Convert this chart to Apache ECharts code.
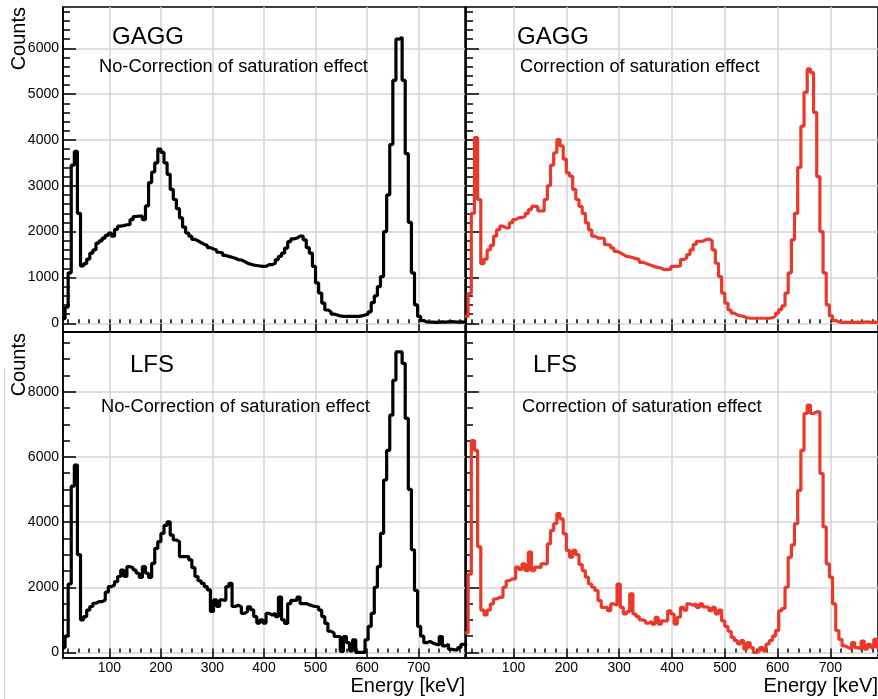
<!DOCTYPE html>
<html><head><meta charset="utf-8">
<script src="https://cdn.jsdelivr.net/npm/echarts@6/dist/echarts.min.js"></script>
<style>html,body{margin:0;padding:0;background:#fff}#c{width:878px;height:699px}</style>
</head><body><div id="c"></div>
<script>
// Bin centres (keV)
const energyBins = [
 11,17,23,29,35,41,47,53,59,65,
 71,77,83,89,95,101,107,113,119,125,
 131,137,143,149,155,161,167,173,179,185,
 191,197,203,209,215,221,227,233,239,245,
 251,257,263,269,275,281,287,293,299,305,
 311,317,323,329,335,341,347,353,359,365,
 371,377,383,389,395,401,407,413,419,425,
 431,437,443,449,455,461,467,473,479,485,
 491,497,503,509,515,521,527,533,539,545,
 551,557,563,569,575,581,587,593,599,605,
 611,617,623,629,635,641,647,653,659,665,
 671,677,683,689,695,701,707,713,719,725,
 731,737,743,749,755,761,767,773,779,785,
 791];
const gaggNoCorrection = [
 100,350,1100,3450,3750,2400,1250,1300,1400,1530,
 1600,1750,1800,1860,1920,1970,1900,2050,2120,2130,
 2150,2150,2260,2330,2340,2340,2260,2560,3070,3300,
 3500,3800,3730,3500,3250,2920,2700,2500,2300,2100,
 1970,1900,1830,1800,1760,1720,1700,1650,1620,1600,
 1550,1530,1480,1460,1440,1420,1390,1380,1350,1310,
 1290,1270,1260,1250,1240,1240,1280,1280,1310,1390,
 1460,1530,1640,1780,1840,1860,1900,1900,1820,1650,
 1530,1240,880,660,440,290,250,200,180,160,
 150,150,150,150,150,150,160,180,200,250,
 450,600,800,1020,2000,2800,3900,5300,6200,6240,
 5300,3700,2200,1100,400,150,60,30,25,25,
 20,25,30,25,30,35,30,25,30,25,
 20];
const gaggCorrection = [
 150,650,2400,4050,2700,1300,1400,1600,1700,1900,
 2040,2120,2080,2080,2190,2260,2300,2310,2330,2400,
 2480,2550,2550,2450,2450,2700,3000,3450,3720,4010,
 3870,3580,3280,3210,2920,2700,2550,2400,2190,2040,
 1900,1860,1860,1850,1715,1700,1640,1570,1540,1500,
 1460,1450,1430,1410,1390,1330,1310,1280,1260,1230,
 1220,1200,1170,1170,1180,1240,1240,1250,1390,1430,
 1500,1600,1720,1790,1790,1820,1840,1800,1600,1310,
 1020,660,440,290,220,180,160,150,120,110,
 110,110,110,110,110,110,120,160,220,300,
 380,660,1100,1820,2400,3400,4300,5040,5550,5470,
 4600,3200,2000,1100,400,160,60,30,20,20,
 20,25,20,25,20,25,30,20,25,20,
 20];
const lfsNoCorrection = [
 150,500,2100,5100,5750,3000,1000,1100,1300,1410,
 1510,1560,1560,1610,1850,2020,2070,2170,2330,2530,
 2330,2630,2600,2530,2430,2300,2630,2430,2300,2730,
 3190,3400,3650,3900,4010,3600,3450,3400,2940,2940,
 2940,2840,2600,2330,2200,2120,2020,1920,1260,1610,
 1410,1610,1600,2020,2120,1410,1450,1400,1200,1250,
 1400,1310,1100,900,1000,900,1200,1150,1200,1100,
 1700,1000,890,1500,1600,1600,1700,1500,1500,1460,
 1430,1410,1400,1300,1100,890,650,590,490,490,
 30,490,300,50,390,0,0,0,390,800,
 1200,2000,2630,3650,5290,6200,7280,8350,9220,9220,
 8870,7180,5000,3150,1900,800,500,300,340,290,
 250,230,490,200,250,100,80,80,150,250,
 200];
const lfsCorrection = [
 600,2400,6500,6200,3240,1300,1150,1300,1490,1640,
 1690,1690,2000,2200,2260,2260,2620,2550,2720,2510,
 3080,2510,2620,2600,2720,2720,3330,3740,3950,4260,
 4100,3640,3130,2920,3130,3000,2700,2510,2310,2100,
 2000,1900,1590,1380,1380,1280,1490,1450,2100,1380,
 1180,1250,1800,1180,1100,1000,970,900,950,870,
 1080,870,970,970,1280,1180,870,1080,1380,1300,
 1490,1450,1490,1380,1490,1400,1380,1280,1380,1180,
 1300,970,800,650,460,360,260,360,100,300,
 150,0,50,150,50,260,360,500,670,1280,
 1350,2000,2920,3300,3950,4970,6200,7330,7590,7330,
 7380,7380,5490,3850,2720,2310,1490,670,400,200,
 150,100,300,150,100,350,100,250,150,400,
 150];
// Tick values
const xMajorTicks = [100,200,300,400,500,600,700];
const xMinorTicks = [20,40,60,80,100,120,140,160,180,200,220,240,260,280,300,320,340,360,380,400,
 420,440,460,480,500,520,540,560,580,600,620,640,660,680,700,720,740,760,780];
const gaggMajorTicks = [0,1000,2000,3000,4000,5000,6000];
const gaggMinorTicks = [200,400,600,800,1000,1200,1400,1600,1800,2000,2200,2400,2600,2800,3000,3200,3400,
 3600,3800,4000,4200,4400,4600,4800,5000,5200,5400,5600,5800,6000,6200,6400,6600,6800];
const lfsMajorTicks = [0,2000,4000,6000,8000];
const lfsMinorTicks = [500,1000,1500,2000,2500,3000,3500,4000,4500,5000,5500,6000,6500,7000,7500,8000,8500,9000,9500];

const FONT = '"Liberation Sans", Arial, Helvetica, sans-serif';

function histData(centers, values) {
  const pts = [];
  const n = centers.length;
  for (let i = 0; i < n; i++) {
    const lo = i === 0 ? centers[0] - (centers[1] - centers[0]) / 2 : (centers[i - 1] + centers[i]) / 2;
    pts.push([lo, values[i]]);
  }
  pts.push([centers[n - 1] + (centers[n - 1] - centers[n - 2]) / 2, values[n - 1]]);
  return pts;
}

const panels = [
  { grid: { left: 63, top: 7, width: 402, height: 325 }, ymin: -190, ymax: 6900, major: gaggMajorTicks, minor: gaggMinorTicks, ylab: true, xlab: false, data: gaggNoCorrection, color: '#000000' },
  { grid: { left: 466, top: 7, width: 413, height: 325 }, ymin: -190, ymax: 6900, major: gaggMajorTicks, minor: gaggMinorTicks, ylab: false, xlab: false, data: gaggCorrection, color: '#e8392b' },
  { grid: { left: 63, top: 332, width: 402, height: 326 }, ymin: -170, ymax: 9830, major: lfsMajorTicks, minor: lfsMinorTicks, ylab: true, xlab: true, data: lfsNoCorrection, color: '#000000' },
  { grid: { left: 466, top: 332, width: 413, height: 326 }, ymin: -170, ymax: 9830, major: lfsMajorTicks, minor: lfsMinorTicks, ylab: false, xlab: true, data: lfsCorrection, color: '#e8392b' }
];

const grids = [], xAxes = [], yAxes = [], series = [];
const blk = { color: '#000', width: 1.5 };
const plain = v => String(v);
panels.forEach((p, g) => {
  grids.push(Object.assign({ show: true, borderColor: '#000', borderWidth: 1.5, backgroundColor: 'transparent' }, p.grid));
  xAxes.push({
    gridIndex: g, type: 'value', min: 10, max: 790, position: 'bottom',
    axisLine: { show: true, onZero: false, lineStyle: blk },
    axisTick: { show: true, inside: true, length: 8, lineStyle: blk, customValues: xMajorTicks },
    axisLabel: { show: p.xlab, customValues: xMajorTicks, formatter: plain, fontSize: 14, color: '#000', margin: 3, fontFamily: FONT },
    splitLine: { show: true, lineStyle: { color: '#d4d4d4', width: 1.5 } }
  });
  xAxes.push({
    gridIndex: g, type: 'value', min: 10, max: 790, position: 'bottom',
    axisLine: { show: false },
    axisTick: { show: true, inside: true, length: 4, lineStyle: blk, customValues: xMinorTicks },
    axisLabel: { show: false }, splitLine: { show: false }
  });
  yAxes.push({
    gridIndex: g, type: 'value', min: p.ymin, max: p.ymax, position: 'left',
    axisLine: { show: true, onZero: false, lineStyle: blk },
    axisTick: { show: true, inside: true, length: 13, lineStyle: blk, customValues: p.major },
    axisLabel: { show: p.ylab, customValues: p.major, formatter: plain, fontSize: 14, color: '#000', margin: 4, fontFamily: FONT },
    splitLine: { show: true, lineStyle: { color: '#d4d4d4', width: 1.5 } }
  });
  yAxes.push({
    gridIndex: g, type: 'value', min: p.ymin, max: p.ymax, position: 'left',
    axisLine: { show: false },
    axisTick: { show: true, inside: true, length: 7, lineStyle: blk, customValues: p.minor },
    axisLabel: { show: false }, splitLine: { show: false }
  });
  series.push({
    type: 'line', xAxisIndex: 2 * g, yAxisIndex: 2 * g, step: 'end', symbol: 'none',
    data: histData(energyBins, p.data), lineStyle: { color: p.color, width: 3.2 }, clip: true, z: 5
  });
});

function txt(x, y, text, size, align, rot) {
  const o = { type: 'text', x: x, y: y, z: 100, style: { text: text, fontSize: size, fontFamily: FONT, fill: '#000', align: align || 'left', verticalAlign: 'middle' } };
  if (rot) o.rotation = rot;
  return o;
}

const chart = echarts.init(document.getElementById('c'), null, { renderer: 'canvas' });
chart.setOption({
  animation: false,
  backgroundColor: '#fff',
  grid: grids, xAxis: xAxes, yAxis: yAxes, series: series,
  graphic: [
    txt(112, 37, 'GAGG', 24),
    txt(99, 66.5, 'No-Correction of saturation effect', 18.3),
    txt(517, 37, 'GAGG', 24),
    txt(520, 66.5, 'Correction of saturation effect', 18.3),
    txt(130, 365, 'LFS', 24),
    txt(101, 406.5, 'No-Correction of saturation effect', 18.3),
    txt(533, 365, 'LFS', 24),
    txt(522, 406.5, 'Correction of saturation effect', 18.3),
    txt(19, 7, 'Counts', 20, 'right', Math.PI / 2),
    txt(19, 333, 'Counts', 20, 'right', Math.PI / 2),
    txt(465, 686, 'Energy [keV]', 20, 'right'),
    txt(878, 686, 'Energy [keV]', 20, 'right'),
    { type: 'line', z: 100, shape: { x1: 4.5, y1: 368, x2: 4.5, y2: 699 }, style: { stroke: '#cccccc', lineWidth: 1 } }
  ]
});
</script>
</body></html>
